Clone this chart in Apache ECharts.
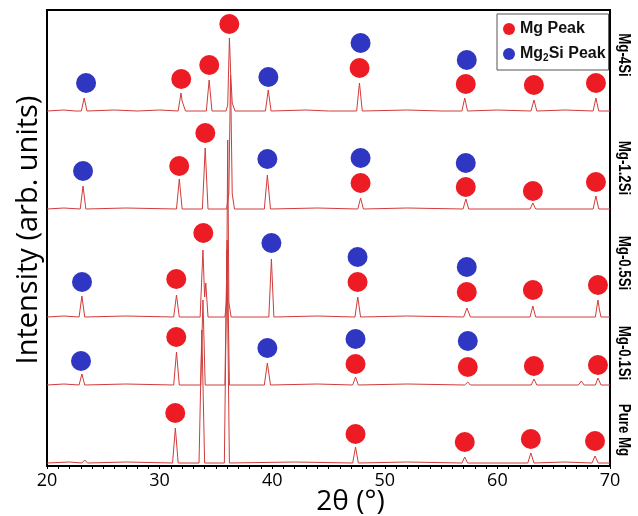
<!DOCTYPE html>
<html>
<head>
<meta charset="utf-8">
<script src="https://cdn.jsdelivr.net/npm/echarts@6/dist/echarts.min.js"></script>
<style>html,body{margin:0;padding:0;background:#fff;}#c{width:638px;height:516px;}</style>
</head>
<body>
<div id="c"></div>
<script>
// ---- data (2θ in degrees, intensity in arbitrary units above each trace's baseline) ----
const sampleNames = ['Pure Mg', 'Mg-0.1Si', 'Mg-0.5Si', 'Mg-1.2Si', 'Mg-4Si'];
const stackOffsets = [3, 81, 149, 257, 355];
const xTicks = [20, 30, 40, 50, 60, 70];

const tracePureMg = [[20,0],[22,1],[23.1,0],[23.35,3],[23.6,0],[27,1],[31.15,0],[31.4,35],[31.65,0],[33.5,0],[33.75,133],[34.0,0],[35.75,0],[35.98,213],[36.2,0],[42,1],[47.15,0],[47.4,16],[47.65,0],[52,1],[56.85,0],[57.1,6],[57.35,0],[62.7,0],[62.97,10],[63.25,0],[66,1],[68.4,0],[68.67,7],[68.95,0],[70,0]];
const traceMg01Si = [[20,0],[21.5,1],[22.85,0],[23.1,11],[23.35,0],[27,1],[31.25,0],[31.5,33],[31.75,0],[33.65,0],[33.85,85],[34.05,0],[35.8,0],[36.0,145],[36.2,0],[39.3,0],[39.57,22],[39.85,0],[44,1],[47.15,0],[47.4,8],[47.65,0],[52,1],[57.1,0],[57.37,3],[57.6,0],[63.0,0],[63.25,6],[63.5,0],[67.2,0],[67.45,4],[67.7,0],[68.7,0],[68.93,7],[69.2,0],[70,0]];
const traceMg05Si = [[20,0],[21.5,1],[22.85,0],[23.1,21],[23.35,0],[27,1],[31.25,0],[31.5,22],[31.75,0],[33.6,0],[33.85,67],[34.0,20],[34.1,34],[34.3,0],[35.8,0],[35.95,15],[36.05,177],[36.15,15],[36.35,0],[39.7,0],[39.93,58],[40.15,0],[44,1],[47.35,0],[47.6,20],[47.85,0],[52,1],[57.0,0],[57.3,9],[57.6,0],[62.9,0],[63.15,11],[63.4,0],[68.7,0],[68.93,17],[69.05,8],[69.2,0],[70,0]];
const traceMg12Si = [[20,0],[21.5,1],[22.95,0],[23.2,23],[23.45,0],[27,1],[31.5,0],[31.75,30],[32.0,0],[33.8,0],[34.05,61],[34.3,0],[35.95,0],[36.15,15],[36.3,134],[36.45,15],[36.65,0],[39.3,0],[39.57,34],[39.85,0],[44,1],[47.6,0],[47.85,11],[48.1,0],[52,1],[56.95,0],[57.2,10],[57.45,0],[62.9,0],[63.15,6],[63.4,0],[68.5,0],[68.75,13],[69.0,0],[70,0]];
const traceMg4Si = [[20,0],[21.5,1],[22.5,0],[23.05,0],[23.3,13],[23.55,0],[26,1],[28,0],[30,1],[31.65,0],[31.9,18],[32.0,10],[32.1,12],[32.3,0],[34.15,0],[34.4,31],[34.65,0],[35.9,0],[36.05,6],[36.2,73],[36.32,36],[36.45,8],[36.7,0],[39.4,0],[39.65,21],[39.9,0],[43,1],[45,0],[47.5,0],[47.75,28],[48.0,0],[52,1],[55,0],[56.85,0],[57.1,13],[57.35,0],[60,1],[62.98,0],[63.25,11],[63.5,0],[66,1],[68.5,0],[68.75,13],[69.0,0],[70,0]];

// peak markers: [2θ, height above the trace baseline]
const mgMarksPureMg = [[31.39,50],[47.40,29],[57.10,21],[62.97,24],[68.67,22]];
const mgMarksMg01Si = [[31.48,48],[47.40,21],[57.37,18],[63.24,19],[68.93,20]];
const mgMarksMg05Si = [[31.48,38],[33.88,84],[47.58,35],[57.28,25],[63.15,27],[68.93,32]];
const mgMarksMg12Si = [[31.74,43],[34.06,76],[47.85,26],[57.19,22],[63.15,18],[68.75,27]];
const mgMarksMg4Si  = [[31.92,32],[34.41,46],[36.19,87],[47.76,43],[57.19,27],[63.24,26],[68.75,28]];
const siMarksPureMg = [];
const siMarksMg01Si = [[23.02,24],[39.57,37],[47.40,46],[57.37,44]];
const siMarksMg05Si = [[23.11,35],[39.93,74],[47.58,60],[57.28,50]];
const siMarksMg12Si = [[23.2,38],[39.57,50],[47.85,51],[57.19,46]];
const siMarksMg4Si  = [[23.47,28],[39.66,34],[47.85,68],[57.28,51]];

const traces = [tracePureMg, traceMg01Si, traceMg05Si, traceMg12Si, traceMg4Si];
const mgMarks = [mgMarksPureMg, mgMarksMg01Si, mgMarksMg05Si, mgMarksMg12Si, mgMarksMg4Si];
const siMarks = [siMarksPureMg, siMarksMg01Si, siMarksMg05Si, siMarksMg12Si, siMarksMg4Si];
const labelCenters = [430, 353, 263, 168, 55];

// ---- build ----
const shift = (arr, off) => arr.map(p => [p[0], p[1] + off]);
const lineSeries = traces.map((t, i) => ({
  name: sampleNames[i], type: 'line', data: shift(t, stackOffsets[i]),
  showSymbol: false, symbol: 'none', silent: true, z: 2,
  lineStyle: { color: '#d03c3a', width: 1 }
}));
const mgData = [].concat(...mgMarks.map((m, i) => shift(m, stackOffsets[i])));
const siData = [].concat(...siMarks.map((m, i) => shift(m, stackOffsets[i])));

const chart = echarts.init(document.getElementById('c'), null, { renderer: 'canvas' });
chart.setOption({
  animation: false,
  backgroundColor: '#fff',
  grid: { left: 47, right: 28, top: 10, bottom: 50, outerBoundsMode: 'none', containLabel: false,
          show: true, borderColor: '#000', borderWidth: 2, backgroundColor: 'transparent' },
  legend: {
    data: ['Mg Peak', 'Mg2Si Peak'], orient: 'vertical', left: 497, top: 14,
    padding: [7, 3, 7, 6], itemGap: 9, itemWidth: 12, itemHeight: 12, icon: 'circle',
    borderColor: '#555', borderWidth: 1, backgroundColor: '#fff',
    formatter: n => n === 'Mg2Si Peak' ? '{a|Mg}{s|2}{a|Si Peak}' : '{a|Mg Peak}',
    textStyle: {
      color: '#111', fontFamily: 'Liberation Sans, Arial, sans-serif', fontWeight: 'bold', fontSize: 16,
      rich: {
        a: { fontFamily: 'Liberation Sans', fontWeight: 'bold', fontSize: 16, lineHeight: 18, color: '#111' },
        s: { fontFamily: 'Liberation Sans', fontWeight: 'bold', fontSize: 10, lineHeight: 10, verticalAlign: 'bottom', color: '#111' }
      }
    }
  },
  xAxis: {
    type: 'value', min: xTicks[0], max: xTicks[xTicks.length - 1], interval: 10,
    name: '2θ (°)', nameLocation: 'middle', nameGap: 22, nameMoveOverlap: false,
    nameTextStyle: { fontFamily: 'Open Sans', fontSize: 28, color: '#000', padding: [0, 0, 0, 44] },
    axisLine: { show: true, lineStyle: { color: '#000', width: 2 } },
    axisTick: { show: true, length: 3, lineStyle: { color: '#000' } },
    minorTick: { show: true, splitNumber: 10, length: 3, lineStyle: { color: '#000' } },
    axisLabel: { fontFamily: 'Open Sans', fontSize: 18, color: '#000', margin: 6 },
    splitLine: { show: false }
  },
  yAxis: {
    type: 'value', min: 0, max: 456,
    name: 'Intensity (arb. units)', nameLocation: 'middle', nameGap: 4, nameMoveOverlap: false,
    nameTextStyle: { fontFamily: 'Open Sans', fontSize: 29, color: '#000', padding: [0, 0, 0, 16] },
    axisLine: { show: true, lineStyle: { color: '#000', width: 2 } },
    axisTick: { show: false }, axisLabel: { show: false }, splitLine: { show: false }
  },
  graphic: sampleNames.map((n, i) => ({
    type: 'text', x: 624, y: labelCenters[i], rotation: -Math.PI / 2, scaleX: 0.78, silent: true,
    style: { text: n, font: 'bold 17px "Liberation Sans", Arial', fill: '#000', align: 'center', verticalAlign: 'middle' }
  })),
  series: lineSeries.concat([
    { name: 'Mg Peak', type: 'scatter', data: mgData, symbolSize: 20, z: 5, itemStyle: { color: '#ed1c24', opacity: 1 } },
    { name: 'Mg2Si Peak', type: 'scatter', data: siData, symbolSize: 20, z: 5, itemStyle: { color: '#2f37c2', opacity: 1 } }
  ])
});
</script>
</body>
</html>
